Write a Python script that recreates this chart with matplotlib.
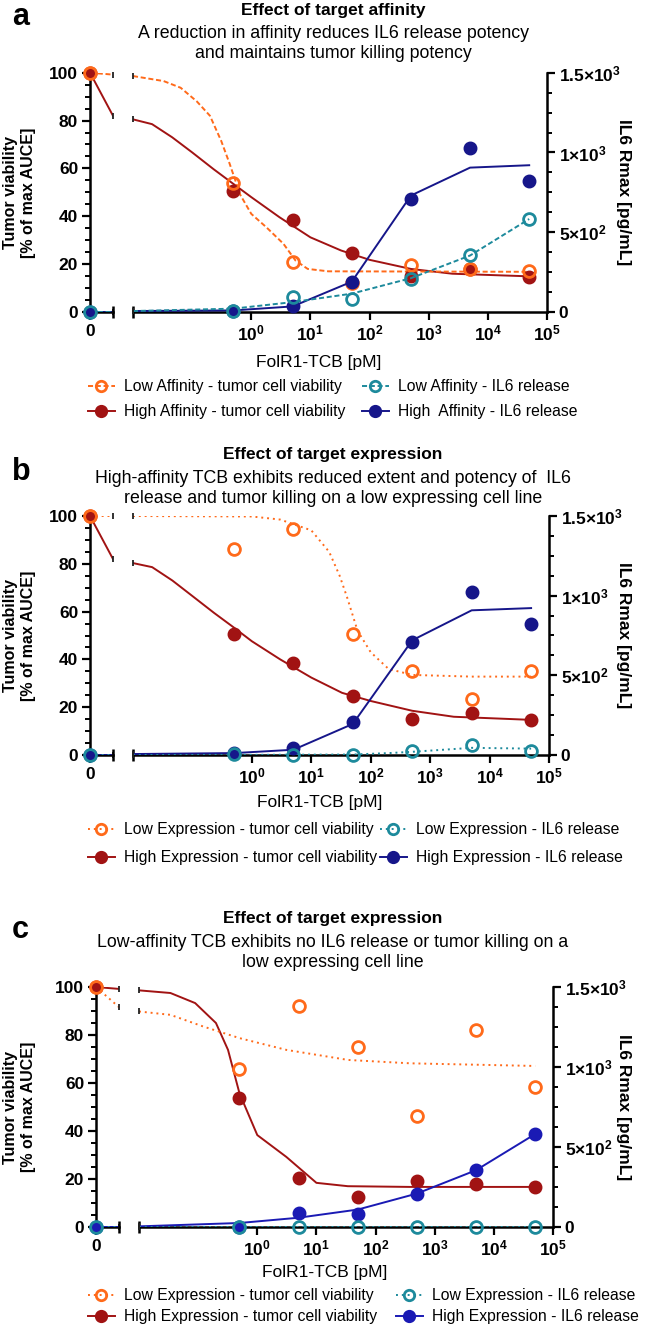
import matplotlib
matplotlib.use('Agg')
import matplotlib.pyplot as plt
from matplotlib.lines import Line2D
from matplotlib.ticker import MultipleLocator, NullLocator

plt.rcParams['font.family'] = ['Liberation Sans', 'DejaVu Sans']
plt.rcParams['mathtext.fontset'] = 'custom'
plt.rcParams['mathtext.rm'] = 'Liberation Sans'
plt.rcParams['mathtext.bf'] = 'Liberation Sans:bold'

# Konzentrationen (pM) der Messpunkte
dose = [0.5, 5, 50, 500, 5000, 50000]

# --- Panel a: Effect of target affinity ---
a_low_via = [54, 21, 12, 19.5, 18, 17]
a_high_via = [50.5, 38.5, 24.5, 15, 18, 14.5]
a_low_il6 = [5, 95, 80, 205, 355, 585]
a_high_il6 = [5, 40, 190, 710, 1025, 820]

a_low_via_fit_x = [0.01, 0.033, 0.064, 0.12, 0.2, 0.31, 0.43, 0.65, 1, 1.8, 3.5, 5.6, 9, 20, 50000]
a_low_via_fit_y = [98.6, 96.5, 93.7, 88, 82, 71.5, 62, 49, 41, 35.4, 28.5, 21.5, 18, 17, 16.8]
a_high_via_fit_x = [0.01, 0.021, 0.046, 0.1, 0.23, 0.5, 1, 3, 10, 33, 100, 500, 2500, 50000]
a_high_via_fit_y = [80.5, 78.5, 73, 66.7, 59.7, 53.5, 48, 39.6, 31.2, 25.7, 21.8, 18, 16, 14.9]
a_low_il6_fit_x = [0.01, 0.5, 5, 50, 500, 5000, 50000]
a_low_il6_fit_y = [6, 21, 62, 115, 212, 354, 583]
a_high_il6_fit_x = [0.01, 0.5, 5, 50, 500, 5000, 50000]
a_high_il6_fit_y = [6, 10, 35, 190, 730, 905, 920]
a_break = [99.2, 82, 0, 0]   # Wert am Ende des 0-Abschnitts

# --- Panel b: Effect of target expression (high affinity TCB) ---
b_low_via = [86, 94.5, 50.5, 35, 23.5, 35]
b_high_via = [50.5, 38.5, 24.5, 15, 17.5, 14.5]
b_low_il6 = [6, 3, 3, 23, 60, 23]
b_high_il6 = [12, 45, 205, 710, 1025, 820]

b_low_via_fit_x = [0.01, 1, 3, 10, 20, 30, 40, 60, 100, 200, 500, 5000, 50000]
b_low_via_fit_y = [100, 99.8, 98.5, 94, 85, 75, 66, 52, 43, 36, 33.5, 32.8, 32.8]
b_high_via_fit_x = a_high_via_fit_x
b_high_via_fit_y = [80.3, 78.6, 73, 66.5, 59.5, 53.3, 47.6, 40, 32.4, 26, 22.6, 18.5, 16, 14.7]
b_low_il6_fit_x = [0.01, 1, 50, 200, 500, 5000, 50000]
b_low_il6_fit_y = [0, 1, 3, 12, 20, 45, 40]
b_high_il6_fit_x = [0.01, 0.5, 5, 50, 500, 5000, 50000]
b_high_il6_fit_y = [6, 12, 33, 195, 720, 908, 922]
b_break = [100, 82, 0, 0]

# --- Panel c: Effect of target expression (low affinity TCB) ---
c_low_via = [66, 92, 75.2, 46.2, 82.2, 58.2]
c_high_via = [53.6, 20.6, 12.3, 19.2, 18.1, 16.7]
c_low_il6 = [0, 0, 0, 0, 0, 0]
c_high_il6 = [3, 88, 79, 209, 355, 581]

c_low_via_fit_x = [0.01, 0.034, 0.12, 0.5, 3.1, 34.5, 386, 50000]
c_low_via_fit_y = [89.8, 88.4, 83.6, 78.7, 73.8, 69.6, 68.2, 67.1]
c_high_via_fit_x = [0.01, 0.034, 0.089, 0.2, 0.32, 0.5, 1, 3.1, 10, 34, 386, 50000]
c_high_via_fit_y = [98.6, 97.5, 93.3, 85, 73.8, 55.7, 38.3, 29.2, 18.4, 17, 16.7, 16.7]
c_low_il6_fit_x = [0.01, 50000]
c_low_il6_fit_y = [0, 0]
c_high_il6_fit_x = [0.01, 0.5, 5, 50, 500, 5000, 50000]
c_high_il6_fit_y = [4, 25, 58, 109, 209, 355, 581]
c_break = [91.6, 99.2, 0, 0]

ORANGE = '#ff6a1a'
RED = '#a11313'
TEAL = '#1d8a9c'
NAVY = '#16168a'
BLUE = '#1a1ab4'

W, H = 645, 1328
fig = plt.figure(figsize=(W / 100, H / 100), dpi=100)


def draw_panel(p):
    left, right, ytop, ybot = p['box']
    h = (ybot - ytop) / H
    b = 1 - ybot / H
    ax0 = fig.add_axes([left / W, b, 23 / W, h])
    ax1 = fig.add_axes([(left + 43) / W, b, (right - left - 43) / W, h])
    ax2 = ax1.twinx()

    for ax in (ax0, ax1, ax2):
        for s in ax.spines.values():
            s.set_visible(False)
            s.set_linewidth(1.8)
        ax.tick_params(direction='out', width=1.6, length=6, labelsize=12.5, pad=2.5)
        ax.tick_params(which='minor', direction='out', width=1.4, length=3.5)
    ax0.spines['left'].set_visible(True)
    ax0.spines['bottom'].set_visible(True)
    ax1.spines['bottom'].set_visible(True)
    ax2.spines['right'].set_visible(True)

    ax0.set_xlim(0, 1)
    ax0.set_ylim(0, 100)
    ax0.set_xticks([0])
    ax0.set_xticklabels(['0'], fontweight='bold')
    ax0.set_yticks(range(0, 101, 20))
    ax0.set_yticklabels([str(v) for v in range(0, 101, 20)], fontweight='bold')
    ax0.yaxis.set_minor_locator(MultipleLocator(5))

    ax1.set_xscale('log')
    ax1.set_xlim(0.01, 1e5)
    ax1.set_ylim(0, 100)
    ax1.set_yticks([])
    ax1.set_xticks([1, 10, 100, 1e3, 1e4, 1e5])
    ax1.set_xticklabels([r'$\mathbf{10^{%d}}$' % k for k in range(6)])
    ax1.xaxis.set_minor_locator(NullLocator())

    ax2.set_ylim(0, 1500)
    ax2.set_yticks([0, 500, 1000, 1500])
    ax2.set_yticklabels(['0', r'$\mathbf{5{\times}10^{2}}$', r'$\mathbf{1{\times}10^{3}}$',
                         r'$\mathbf{1.5{\times}10^{3}}$'], fontweight='bold')
    ax2.yaxis.set_minor_locator(MultipleLocator(125))
    ax2.tick_params(axis='x', which='both', bottom=False, labelbottom=False)

    # Achsenbruch-Markierungen
    ax0.plot([1], [0], marker='|', ms=9, mew=1.8, color='k', clip_on=False, zorder=5)
    ax1.plot([0.01], [0], marker='|', ms=9, mew=1.8, color='k', clip_on=False, zorder=5)

    series = [
        (ax1, p['low_via'], p['low_via_fit'], p['c_low_via'], p['ls_low'], False, 100),
        (ax1, p['high_via'], p['high_via_fit'], p['c_high_via'], '-', True, 100),
        (ax2, p['low_il6'], p['low_il6_fit'], p['c_low_il6'], p['ls_low'], False, 0),
        (ax2, p['high_il6'], p['high_il6_fit'], p['c_high_il6'], '-', True, 0),
    ]
    # gefuellte zuerst, offene darueber
    for i in [1, 0, 3, 2]:
        ax, ys, fit, col, ls, filled, y0 = series[i]
        brk = p['brk'][i] if ax is ax1 else p['brk'][i] / 15
        # Abschnitt bei x = 0
        ax0.plot([0, 1], [y0, brk], color=col, ls=ls, lw=1.4, zorder=3)
        ax0.plot([1], [brk], marker='|', ms=5, mew=1.3, color='#222222', zorder=4, clip_on=False)
        ax0.plot([0], [y0], marker='o', ms=8 if filled else 8.5, ls='none', clip_on=False,
                 mfc=col if filled else 'none', mec=col, mew=2, zorder=6)
        # Kurve und Messpunkte
        ax.plot(fit[0], fit[1], color=col, ls=ls, lw=1.4, zorder=3)
        ax.plot([fit[0][0]], [fit[1][0]], marker='|', ms=5, mew=1.3, color='#222222',
                zorder=4, clip_on=False)
        ax.plot(dose, ys, marker='o', ms=8 if filled else 8.5, ls='none', clip_on=False,
                mfc=col if filled else 'none', mec=col, mew=2, zorder=6)
    ax0.set_zorder(3)
    ax0.patch.set_visible(False)

    handles = []
    for ax, ys, fit, col, ls, filled, y0 in series:
        handles.append(Line2D([], [], color=col, ls=ls, lw=1.4, marker='o', ms=7.5,
                              mfc=col if filled else 'none', mec=col, mew=2))

    cx = (left + right) / 2 / W
    fig.text(cx, 1 - p['xlab_y'] / H, 'FolR1-TCB [pM]', ha='center', va='center', fontsize=12.5)
    cy = 1 - (ytop + ybot) / 2 / H
    fig.text(11 / W, cy, 'Tumor viability', rotation=90, ha='center', va='center',
             fontsize=11.5, fontweight='bold')
    fig.text(29 / W, cy, '[% of max AUCE]', rotation=90, ha='center', va='center',
             fontsize=11.5, fontweight='bold')
    fig.text(624 / W, cy, 'IL6 Rmax [pg/mL]', rotation=270, ha='center', va='center',
             fontsize=12.5, fontweight='bold')

    fig.text(333 / W, 1 - p['title_y'] / H, p['title'], ha='center', va='center',
             fontsize=12.5, fontweight='bold')
    fig.text(333 / W, 1 - (p['title_y'] + 15) / H, p['subtitle'], ha='center', va='top',
             fontsize=12.8, linespacing=1.26)
    fig.text(12 / W, 1 - p['letter_y'] / H, p['letter'], ha='left', va='center',
             fontsize=22, fontweight='bold')

    # Legende: zwei Spalten als zwei Legenden
    for k, x in enumerate([88, p['col2_x']]):
        fig.legend(handles[2 * k:2 * k + 2], p['labels'][2 * k:2 * k + 2], loc='upper left',
                   frameon=False, bbox_to_anchor=(x / W, 1 - p['leg_y'] / H), fontsize=11.3,
                   handlelength=1.7, handletextpad=0.6, labelspacing=p['legsp'],
                   borderaxespad=0, borderpad=0)


draw_panel(dict(
    box=(90, 547, 72.7, 312),
    low_via=a_low_via, high_via=a_high_via, low_il6=a_low_il6, high_il6=a_high_il6,
    low_via_fit=(a_low_via_fit_x, a_low_via_fit_y), high_via_fit=(a_high_via_fit_x, a_high_via_fit_y),
    low_il6_fit=(a_low_il6_fit_x, a_low_il6_fit_y), high_il6_fit=(a_high_il6_fit_x, a_high_il6_fit_y),
    brk=a_break, ls_low=(0, (2.6, 1.4)),
    c_low_via=ORANGE, c_high_via=RED, c_low_il6=TEAL, c_high_il6=NAVY,
    labels=['Low Affinity - tumor cell viability', 'High Affinity - tumor cell viability',
            'Low Affinity - IL6 release', 'High  Affinity - IL6 release'],
    title='Effect of target affinity',
    subtitle='A reduction in affinity reduces IL6 release potency\nand maintains tumor killing potency',
    title_y=10, letter='a', letter_y=17, leg_y=379, legsp=0.65, col2_x=362, xlab_y=362))

draw_panel(dict(
    box=(90, 549, 516, 755),
    low_via=b_low_via, high_via=b_high_via, low_il6=b_low_il6, high_il6=b_high_il6,
    low_via_fit=(b_low_via_fit_x, b_low_via_fit_y), high_via_fit=(b_high_via_fit_x, b_high_via_fit_y),
    low_il6_fit=(b_low_il6_fit_x, b_low_il6_fit_y), high_il6_fit=(b_high_il6_fit_x, b_high_il6_fit_y),
    brk=b_break, ls_low=(0, (1, 2)),
    c_low_via=ORANGE, c_high_via=RED, c_low_il6=TEAL, c_high_il6=NAVY,
    labels=['Low Expression - tumor cell viability', 'High Expression - tumor cell viability',
            'Low Expression - IL6 release', 'High Expression - IL6 release'],
    title='Effect of target expression',
    subtitle='High-affinity TCB exhibits reduced extent and potency of  IL6\n'
             'release and tumor killing on a low expressing cell line',
    title_y=455, letter='b', letter_y=472, leg_y=822, legsp=0.85, col2_x=380, xlab_y=803))

draw_panel(dict(
    box=(96, 553, 987, 1227),
    low_via=c_low_via, high_via=c_high_via, low_il6=c_low_il6, high_il6=c_high_il6,
    low_via_fit=(c_low_via_fit_x, c_low_via_fit_y), high_via_fit=(c_high_via_fit_x, c_high_via_fit_y),
    low_il6_fit=(c_low_il6_fit_x, c_low_il6_fit_y), high_il6_fit=(c_high_il6_fit_x, c_high_il6_fit_y),
    brk=c_break, ls_low=(0, (1, 2)),
    c_low_via=ORANGE, c_high_via=RED, c_low_il6=TEAL, c_high_il6=BLUE,
    labels=['Low Expression - tumor cell viability', 'High Expression - tumor cell viability',
            'Low Expression - IL6 release', 'High Expression - IL6 release'],
    title='Effect of target expression',
    subtitle='Low-affinity TCB exhibits no IL6 release or tumor killing on a\nlow expressing cell line',
    title_y=919, letter='c', letter_y=930, leg_y=1288, legsp=0.4, col2_x=396, xlab_y=1272))

fig.savefig('out.png', dpi=100)
